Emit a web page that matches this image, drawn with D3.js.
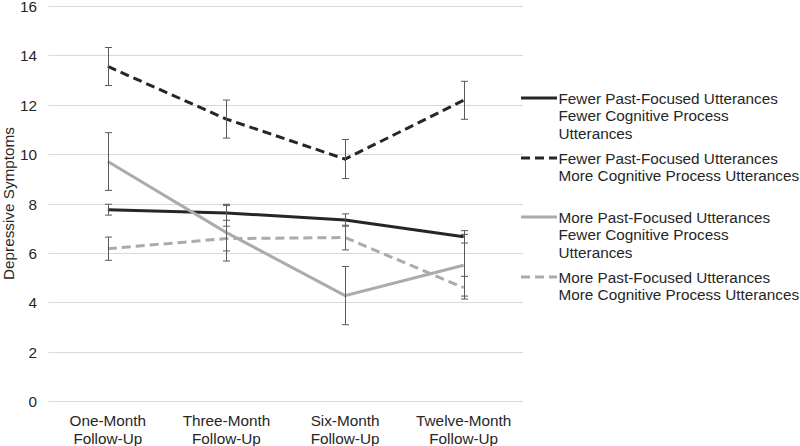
<!DOCTYPE html>
<html><head><meta charset="utf-8">
<script src="https://cdn.jsdelivr.net/npm/d3@7"></script>
<style>body{margin:0;background:#fff}svg{display:block;font-family:"Liberation Sans",Arial,sans-serif}</style>
</head><body><svg id="c" width="800" height="446"></svg>
<script>
const categories = [["One-Month","Follow-Up"],["Three-Month","Follow-Up"],["Six-Month","Follow-Up"],["Twelve-Month","Follow-Up"]];
const seriesNames = [
  ["Fewer Past-Focused Utterances","Fewer Cognitive Process","Utterances"],
  ["Fewer Past-Focused Utterances","More Cognitive Process Utterances"],
  ["More Past-Focused Utterances","Fewer Cognitive Process","Utterances"],
  ["More Past-Focused Utterances","More Cognitive Process Utterances"]
];
const fewerFewer = [7.75, 7.62, 7.33, 6.65];
const fewerMore  = [13.55, 11.42, 9.8, 12.18];
const moreFewer  = [9.7, 6.82, 4.27, 5.5];
const moreMore   = [6.17, 6.58, 6.62, 4.59];
const errFewerFewer = [0.22, 0.3, 0.25, 0.25];
const errFewerMore  = [0.77, 0.77, 0.79, 0.77];
const errMoreFewer  = [1.17, 1.15, 1.18, 1.25];
const errMoreMore   = [0.47, 0.5, 0.5, 0.46];
const yTicks = [0,2,4,6,8,10,12,14,16];

const FS = 15.3;
const series = [
  {name: seriesNames[0], values: fewerFewer, err: errFewerFewer, color:"#262626", dash:null},
  {name: seriesNames[1], values: fewerMore, err: errFewerMore, color:"#262626", dash:"9,5"},
  {name: seriesNames[2], values: moreFewer, err: errMoreFewer, color:"#ababab", dash:null},
  {name: seriesNames[3], values: moreMore, err: errMoreMore, color:"#ababab", dash:"9,5"}
];

const svg = d3.select("#c");
const x = d3.scaleBand().domain(d3.range(categories.length)).range([48.5, 523]).padding(0);
const y = d3.scaleLinear().domain([0,16]).range([401, 6]);
const cx = i => x(i) + x.bandwidth()/2;

// gridlines
svg.append("g").selectAll("line").data(yTicks).join("line")
  .attr("x1", 48.5).attr("x2", 523)
  .attr("y1", d => Math.round(y(d))+0.5).attr("y2", d => Math.round(y(d))+0.5)
  .attr("stroke", "#d9d9d9").attr("stroke-width", 1);

// y axis labels
const yAxis = d3.axisLeft(y).tickValues(yTicks).tickSize(0).tickPadding(0);
const gy = svg.append("g").attr("transform","translate(37,0)").call(yAxis);
gy.select(".domain").remove();
gy.selectAll("text").attr("font-size", FS).attr("fill", "#262626").attr("font-family","Liberation Sans, Arial, sans-serif")
  .attr("dy", "0.36em");

// y title
svg.append("text").attr("transform", "translate(13.5," + (y(8)) + ") rotate(-90)")
  .attr("text-anchor","middle").attr("font-size", FS).attr("fill","#262626")
  .text("Depressive Symptoms");

// x labels
const xl = svg.append("g");
categories.forEach((c, i) => {
  const t = xl.append("text").attr("text-anchor","middle").attr("font-size",FS).attr("fill","#262626");
  c.forEach((s, k) => t.append("tspan").attr("x", cx(i)).attr("y", 425.5 + k*18).text(s));
});

// lines
const line = d3.line().x((d,i) => cx(i)).y(d => y(d));
series.forEach(s => {
  svg.append("path").datum(s.values).attr("d", line)
    .attr("fill","none").attr("stroke", s.color).attr("stroke-width", 3)
    .attr("stroke-dasharray", s.dash);
});

// error bars
series.forEach(s => {
  const g = svg.append("g").attr("stroke","#595959").attr("stroke-width",1);
  s.values.forEach((v, i) => {
    const xx = Math.round(cx(i)) + 0.5;
    const top = y(v + s.err[i]), bot = y(v - s.err[i]);
    g.append("line").attr("x1", xx).attr("x2", xx).attr("y1", top).attr("y2", bot);
    g.append("line").attr("x1", xx-3.5).attr("x2", xx+3.5).attr("y1", top).attr("y2", top);
    g.append("line").attr("x1", xx-3.5).attr("x2", xx+3.5).attr("y1", bot).attr("y2", bot);
  });
});

// legend
const legendY = [98, 158, 217, 277];
series.forEach((s, i) => {
  const g = svg.append("g").attr("transform", `translate(0,${legendY[i]})`);
  g.append("line").attr("x1", 521).attr("x2", 557).attr("y1", 0).attr("y2", 0)
    .attr("stroke", s.color).attr("stroke-width", 3).attr("stroke-dasharray", s.dash);
  const t = g.append("text").attr("font-size", FS).attr("fill", "#262626");
  s.name.forEach((n, k) => t.append("tspan").attr("x", 558.5).attr("y", 5.5 + k*17.5).text(n));
});
</script></body></html>
